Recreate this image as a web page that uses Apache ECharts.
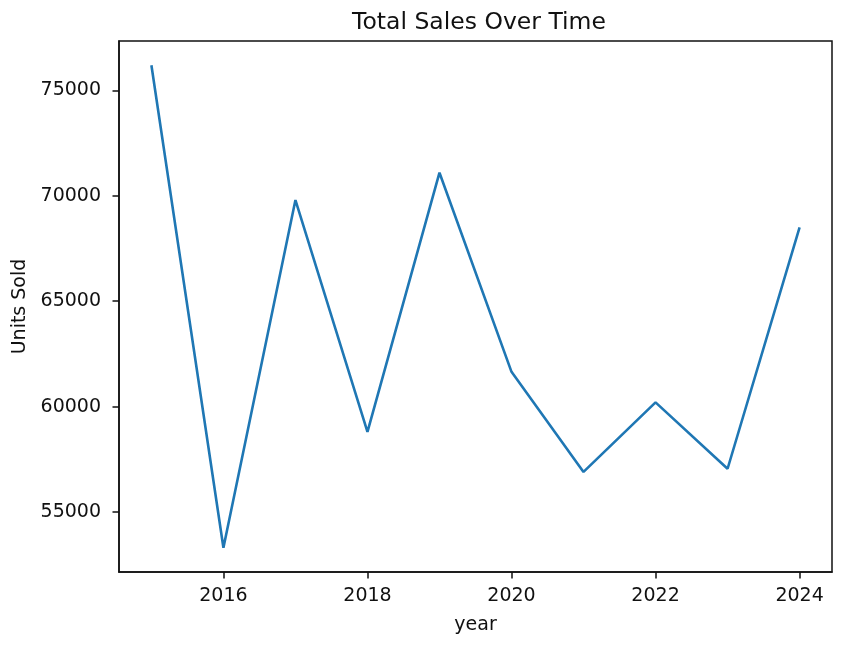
<!DOCTYPE html>
<html>
<head>
<meta charset="utf-8">
<script src="https://cdn.jsdelivr.net/npm/echarts@6/dist/echarts.min.js"></script>
<style>
  html, body { margin: 0; padding: 0; background: #fff; }
  #chart { width: 843px; height: 647px; }
</style>
</head>
<body>
<div id="chart"></div>
<script>
// data
var years = [2015, 2016, 2017, 2018, 2019, 2020, 2021, 2022, 2023, 2024];
var unitsSold = [76200, 53300, 69800, 58800, 71100, 61650, 56900, 60200, 57050, 68500];

var xTicks = [2016, 2018, 2020, 2022, 2024];
var yTicks = [55000, 60000, 65000, 70000, 75000];

var points = years.map(function (y, i) { return [y, unitsSold[i]]; });

var font = 'DejaVu Sans';
var chart = echarts.init(document.getElementById('chart'));

var option = {
  backgroundColor: '#fff',
  animation: false,
  title: {
    text: 'Total Sales Over Time',
    left: 474,
    textAlign: 'center',
    top: 6,
    textStyle: { fontFamily: font, fontSize: 23.5, fontWeight: 'normal', color: '#111' }
  },
  grid: {
    left: 119, right: 11, top: 41, bottom: 75,
    show: true, borderColor: '#111', borderWidth: 1.5, backgroundColor: 'transparent'
  },
  xAxis: {
    type: 'value',
    min: 2014.55,
    max: 2024.45,
    name: 'year',
    nameLocation: 'middle',
    nameGap: 44,
    nameTextStyle: { fontFamily: font, fontSize: 19, color: '#111' },
    axisLine: { show: true, lineStyle: { color: '#111', width: 1.5 } },
    axisTick: { show: true, length: 6.5, customValues: xTicks, lineStyle: { color: '#111', width: 1.5 } },
    axisLabel: {
      customValues: xTicks,
      margin: 15,
      fontFamily: font, fontSize: 19, color: '#111',
      formatter: function (v) { return String(v); }
    },
    splitLine: { show: false }
  },
  yAxis: {
    type: 'value',
    min: 52150,
    max: 77350,
    name: 'Units Sold',
    nameLocation: 'middle',
    nameGap: 89,
    nameTextStyle: { fontFamily: font, fontSize: 19, color: '#111' },
    axisLine: { show: true, lineStyle: { color: '#111', width: 1.5 } },
    axisTick: { show: true, length: 6.5, customValues: yTicks, lineStyle: { color: '#111', width: 1.5 } },
    axisLabel: {
      customValues: yTicks,
      margin: 18,
      fontFamily: font, fontSize: 19, color: '#111',
      formatter: function (v) { return String(v); }
    },
    splitLine: { show: false }
  },
  series: [
    {
      type: 'line',
      data: points,
      showSymbol: false,
      lineStyle: { color: '#1f77b4', width: 2.6 },
      itemStyle: { color: '#1f77b4' }
    }
  ]
};

chart.setOption(option);
</script>
</body>
</html>
